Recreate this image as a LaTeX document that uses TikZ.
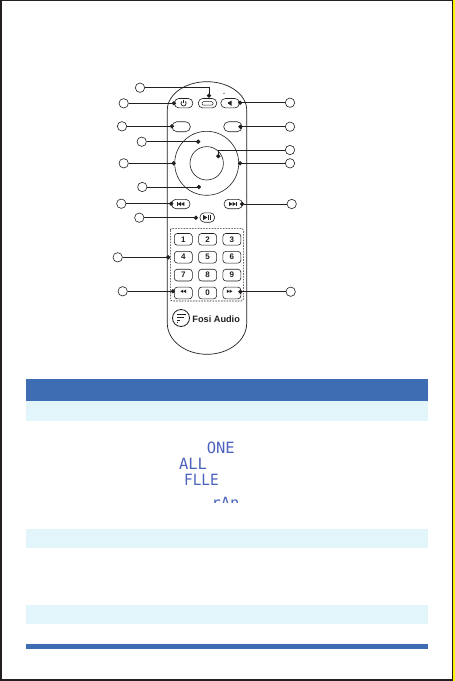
\documentclass[tikz,border=0pt]{standalone}
\usepackage{fontspec}
\setmainfont{Liberation Sans}
\newfontfamily\lcdfont{DejaVu Sans Mono}
\usetikzlibrary{arrows.meta,positioning}
\definecolor{fosiBlue}{RGB}{63, 109, 179}
\definecolor{fosiLightBlue}{RGB}{226, 245, 251}
\definecolor{fosiLcd}{RGB}{76, 100, 190}
\definecolor{fosiLine}{RGB}{35, 31, 32}
\definecolor{fosiYellow}{RGB}{255, 242, 0}
\begin{document}
\begin{tikzpicture}[
  x=1pt,y=-1pt,
  callout/.style={
    draw=fosiLine,
    line width=0.6pt,
    circle,
    inner sep=0pt,
    minimum size=9.4pt
  },
  oval/.style={
    draw=fosiLine,
    line width=0.6pt,
    rounded corners=4.4pt,
    minimum width=18.4pt,
    minimum height=9.4pt,
    inner sep=0pt
  },
  keybtn/.style={
    draw=fosiLine,
    line width=0.6pt,
    rounded corners=3pt,
    minimum width=18pt,
    minimum height=11.7pt,
    inner sep=0pt,
    font=\fontsize{8}{8}\selectfont\bfseries,
    text=fosiLine
  },
  lcd/.style={
    inner sep=0pt,
    text=fosiLcd,
    font=\fontsize{15.5}{15.5}\lcdfont
  },
  leader/.style={-{Circle[length=4.2pt]},line width=0.8pt,fosiLine},
  glyph/.style={fill=fosiLine,draw=none}
]
  \useasboundingbox (0,0) rectangle (455,681);
  % page edges
  \fill[white] (0,0) rectangle (455,681);
  \fill[fosiLine] (0,0) rectangle (452.5,1);
  \fill[fosiLine] (0,0) rectangle (2,681);
  \fill[fosiLine] (0,679) rectangle (452.5,681);
  \fill[fosiLine] (452,0) rectangle (453,681);
  \fill[fosiYellow] (453,0) rectangle (455,681);
  % table bands
  \fill[fosiBlue] (26,379) rectangle (428,401);
  \fill[fosiLightBlue] (26,401) rectangle (428,421);
  \fill[fosiLightBlue] (26,529) rectangle (428,548);
  \fill[fosiLightBlue] (26,605) rectangle (428,624);
  \fill[fosiBlue] (26,644) rectangle (428,649);
  % display words
  \node[lcd,anchor=center] (one) at (220.8,447.5) {ONE};
  \node[lcd,anchor=center] (all) at (193,464) {ALL};
  \node[lcd,anchor=center,xscale=0.93] (flle) at (201.5,480) {FLLE};
  \begin{scope}
    \clip (205,495) rectangle (245,502.5);
    \node[lcd,anchor=center] (ran) at (225.5,502.5) {rAn};
  \end{scope}
  % remote body
  \draw[fosiLine,line width=0.7pt] (167.3,110) arc[start angle=180,end angle=360,x radius=39.7,y radius=28.3]
    -- (246.7,323.3) arc[start angle=0,end angle=180,x radius=39.7,y radius=31] -- cycle;
  \fill[fosiLine] (224,93.3) circle (0.6);
  % top buttons
  \node[oval] (power) at (183.6,103.2) {};
  \node[oval] (source) at (207.5,103.2) {};
  \node[oval] (mute) at (230.1,103.2) {};
  \node[oval,minimum height=10pt,rounded corners=5pt] (back) at (181.2,126.7) {};
  \node[oval,minimum height=10pt,rounded corners=5pt] (menu) at (232.9,126.7) {};
  \draw[fosiLine,line width=0.5pt,rounded corners=1.2pt] (202,101.7) rectangle (213,105.2);
  \draw[fosiLine,line width=0.7pt] (181.93,101.41) arc[start angle=230,end angle=-50,radius=2.6];
  \draw[fosiLine,line width=0.7pt] (183.6,99.8) -- (183.6,103);
  \fill[glyph] (227.9,102) rectangle (229.2,104.4);
  \fill[glyph] (229.2,102) -- (231.6,100.6) -- (231.6,105.8) -- (229.2,104.4) -- cycle;
  % wheel
  \node[draw=fosiLine,line width=0.6pt,circle,inner sep=0pt,minimum size=64pt] (wheel) at (206.7,163.3) {};
  \node[draw=fosiLine,line width=0.6pt,circle,inner sep=0pt,minimum size=33.4pt] (enter) at (206.7,163.3) {};
  % track buttons
  \node[oval] (prev) at (180.8,204) {};
  \node[oval] (next) at (233.3,204) {};
  \node[oval,minimum width=14.7pt] (play) at (207.3,217.5) {};
  \fill[glyph] (176.6,202) rectangle (177.4,206);
  \fill[glyph] (181,202) -- (181,206) -- (177.6,204) -- cycle;
  \fill[glyph] (184.4,202) -- (184.4,206) -- (181,204) -- cycle;
  \fill[glyph] (229.2,202) -- (229.2,206) -- (232.6,204) -- cycle;
  \fill[glyph] (232.6,202) -- (232.6,206) -- (236,204) -- cycle;
  \fill[glyph] (236.2,202) rectangle (237,206);
  \fill[glyph] (203.2,215) -- (203.2,220) -- (207.4,217.5) -- cycle;
  \fill[glyph] (208.2,215) rectangle (209.2,220);
  \fill[glyph] (210.2,215) rectangle (211.2,220);
  % number pad
  \draw[fosiLine,line width=0.6pt,dashed,dash pattern=on 1.6pt off 1.2pt,rounded corners=2pt] (170.3,228.3) rectangle (243.3,301);
  \node[keybtn] (key1) at (183.3,239.3) {1};
  \node[keybtn,right=5.7pt of key1] (key2) {2};
  \node[keybtn,right=5.7pt of key2] (key3) {3};
  \node[keybtn,below=5.6pt of key1] (key4) {4};
  \node[keybtn,right=5.7pt of key4] (key5) {5};
  \node[keybtn,right=5.7pt of key5] (key6) {6};
  \node[keybtn,below=5.6pt of key4] (key7) {7};
  \node[keybtn,right=5.7pt of key7] (key8) {8};
  \node[keybtn,right=5.7pt of key8] (key9) {9};
  \node[keybtn,below=5.6pt of key7] (keyback) {};
  \node[keybtn,right=5.7pt of keyback] (key0) {0};
  \node[keybtn,right=5.7pt of key0] (keyfwd) {};
  \fill[glyph] (183.2,289.6) -- (183.2,293) -- (180.4,291.3) -- cycle;
  \fill[glyph] (186,289.6) -- (186,293) -- (183.2,291.3) -- cycle;
  \fill[glyph] (226.8,289.6) -- (226.8,293) -- (229.6,291.3) -- cycle;
  \fill[glyph] (229.6,289.6) -- (229.6,293) -- (232.4,291.3) -- cycle;
  % logo
  \node[draw=fosiLine,line width=0.8pt,circle,inner sep=0pt,minimum size=17pt] (logo) at (181,318) {};
  \fill[glyph] (177,313.6) rectangle (186,315.4);
  \fill[glyph] (177,316.6) rectangle (184,318.4);
  \fill[glyph] (177,319.6) rectangle (180.4,321.4);
  \fill[glyph] (177,322.2) rectangle (178.4,323.2);
  \node[font=\fontsize{9.2}{9.2}\selectfont\bfseries,text=fosiLine,inner sep=0pt,anchor=west] (brand) at (192.2,319.2) {Fosi Audio};
  % callout anchors
  \coordinate (dotsource) at (209,97.7);
  \coordinate (bendsource) at (209,87.7);
  \coordinate (dotpower) at (176,103.3);
  \coordinate (dotback) at (174,126.3);
  \coordinate (dotup) at (200.3,141.7);
  \coordinate (dotleft) at (175.7,163.3);
  \coordinate (dotdown) at (201,187);
  \coordinate (dotprev) at (173.3,203.7);
  \coordinate (dotplay) at (198,217.7);
  \coordinate (dotpad) at (170.3,257.3);
  \coordinate (dotrew) at (175,291.3);
  \coordinate (dotmute) at (238,102.7);
  \coordinate (dotmenu) at (238.3,126.7);
  \coordinate (bendenter) at (218.3,150);
  \coordinate (dotenter) at (218.3,158.3);
  \coordinate (dotright) at (238,163.3);
  \coordinate (dotnext) at (240,204);
  \coordinate (dotfwd) at (238.3,291.7);
  % callouts, left side
  \node[callout] (csource) at (140,87.7) {};
  \node[callout] (cpower) at (123.7,103.3) {};
  \node[callout] (cback) at (122,126.3) {};
  \node[callout] (cup) at (141.7,141.7) {};
  \node[callout] (cleft) at (123.7,163.3) {};
  \node[callout] (cdown) at (142.3,187) {};
  \node[callout] (cprev) at (121.3,203.7) {};
  \node[callout] (cplay) at (139.3,217.7) {};
  \node[callout] (cpad) at (117.7,257.3) {};
  \node[callout] (crew) at (122.7,291.3) {};
  % callouts, right side
  \node[callout] (cmute) at (290,102.7) {};
  \node[callout] (cmenu) at (290,126.7) {};
  \node[callout] (center) at (290,150) {};
  \node[callout] (cright) at (290,163.3) {};
  \node[callout] (cnext) at (291.7,204) {};
  \node[callout] (cfwd) at (290.7,291.7) {};
  % leaders
  \draw[leader] (csource) -- (bendsource) -- (dotsource);
  \draw[leader] (cpower) -- (dotpower);
  \draw[leader] (cback) -- (dotback);
  \draw[leader] (cup) -- (dotup);
  \draw[leader] (cleft) -- (dotleft);
  \draw[leader] (cdown) -- (dotdown);
  \draw[leader] (cprev) -- (dotprev);
  \draw[leader] (cplay) -- (dotplay);
  \draw[leader] (cpad) -- (dotpad);
  \draw[leader] (crew) -- (dotrew);
  \draw[leader] (cmute) -- (dotmute);
  \draw[leader] (cmenu) -- (dotmenu);
  \draw[leader] (center) -- (bendenter) -- (dotenter);
  \draw[leader] (cright) -- (dotright);
  \draw[leader] (cnext) -- (dotnext);
  \draw[leader] (cfwd) -- (dotfwd);
\end{tikzpicture}
\end{document}
